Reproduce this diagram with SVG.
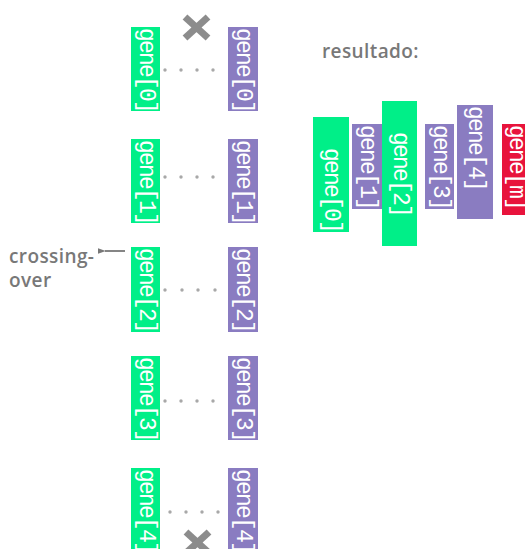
<svg xmlns="http://www.w3.org/2000/svg" width="525" height="549" viewBox="0 0 525 549">
<style>
.g{fill:#00EF88}
.p{fill:#8A7CC1}
.r{fill:#E8133C}
.t{font-family:"Liberation Mono","DejaVu Sans Mono",monospace;font-size:23px;letter-spacing:-1.8px;fill:#fff;dominant-baseline:central}
.lbl{font-family:"Open Sans","Noto Sans",sans-serif;font-size:19px;letter-spacing:0.4px;fill:#787878;font-weight:600}
.dot{fill:#A8A8A8}
.x{stroke:#8C8C8C;stroke-width:7;stroke-linecap:butt}
</style>
<defs>
<marker id="ah" viewBox="0 0 10 10" refX="1" refY="5" markerWidth="8" markerHeight="8" orient="auto-start-reverse" markerUnits="userSpaceOnUse">
<path d="M10,1.5 L0,5 L10,8.5 Z" fill="#787878"/>
</marker>
</defs>
<g id="connectors">
<g id="dots0"><circle class="dot" cx="165" cy="70" r="1.7"/><circle class="dot" cx="181" cy="70" r="1.7"/><circle class="dot" cx="197" cy="70" r="1.7"/><circle class="dot" cx="213" cy="70" r="1.7"/></g>
<g id="dots1"><circle class="dot" cx="165" cy="177" r="1.7"/><circle class="dot" cx="181" cy="177" r="1.7"/><circle class="dot" cx="197" cy="177" r="1.7"/><circle class="dot" cx="213" cy="177" r="1.7"/></g>
<g id="dots2"><circle class="dot" cx="165" cy="290" r="1.7"/><circle class="dot" cx="182" cy="290" r="1.7"/><circle class="dot" cx="198" cy="290" r="1.7"/><circle class="dot" cx="215" cy="290" r="1.7"/></g>
<g id="dots3"><circle class="dot" cx="165" cy="401" r="1.7"/><circle class="dot" cx="181" cy="401" r="1.7"/><circle class="dot" cx="197" cy="401" r="1.7"/><circle class="dot" cx="213" cy="401" r="1.7"/></g>
<g id="dots4"><circle class="dot" cx="170" cy="512" r="1.7"/><circle class="dot" cx="186" cy="512" r="1.7"/><circle class="dot" cx="202" cy="512" r="1.7"/><circle class="dot" cx="218" cy="512" r="1.7"/></g>
<line x1="125" y1="251" x2="105" y2="251" stroke="#787878" stroke-width="1.8" marker-end="url(#ah)"/>
</g>
<g id="cross-top"><line class="x" x1="185" y1="17" x2="208" y2="38"/><line class="x" x1="208" y1="17" x2="185" y2="38"/></g>
<g id="cross-bottom"><line class="x" x1="186" y1="532" x2="209" y2="553"/><line class="x" x1="209" y1="532" x2="186" y2="553"/></g>
<text class="lbl" x="9" y="263">crossing-</text>
<text class="lbl" x="9" y="287">over</text>
<text class="lbl" x="322" y="58">resultado:</text>
<g id="a0"><rect class="g" x="131" y="27" width="29" height="84"/><text class="t" transform="translate(145.5,28) rotate(90)">gene[0]</text></g>
<g id="b0"><rect class="p" x="228" y="27" width="30" height="84"/><text class="t" transform="translate(243,28) rotate(90)">gene[0]</text></g>
<g id="a1"><rect class="g" x="131" y="139" width="29" height="84"/><text class="t" transform="translate(145.5,140) rotate(90)">gene[1]</text></g>
<g id="b1"><rect class="p" x="228" y="139" width="30" height="84"/><text class="t" transform="translate(243,140) rotate(90)">gene[1]</text></g>
<g id="a2"><rect class="g" x="131" y="247" width="29" height="85"/><text class="t" transform="translate(145.5,248) rotate(90)">gene[2]</text></g>
<g id="b2"><rect class="p" x="228" y="247" width="30" height="85"/><text class="t" transform="translate(243,248) rotate(90)">gene[2]</text></g>
<g id="a3"><rect class="g" x="131" y="356" width="29" height="84"/><text class="t" transform="translate(145.5,357) rotate(90)">gene[3]</text></g>
<g id="b3"><rect class="p" x="228" y="356" width="30" height="84"/><text class="t" transform="translate(243,357) rotate(90)">gene[3]</text></g>
<g id="a4"><rect class="g" x="131" y="468" width="29" height="84"/><text class="t" transform="translate(145.5,469) rotate(90)">gene[4]</text></g>
<g id="b4"><rect class="p" x="228" y="468" width="30" height="84"/><text class="t" transform="translate(243,469) rotate(90)">gene[4]</text></g>
<g id="r0"><rect class="g" x="313" y="117" width="36" height="115"/><text class="t" transform="translate(331,148) rotate(90)">gene[0]</text></g>
<g id="r1"><rect class="p" x="352" y="124" width="30" height="85"/><text class="t" transform="translate(367,125) rotate(90)">gene[1]</text></g>
<g id="r2"><rect class="g" x="382" y="101" width="35" height="145"/><text class="t" transform="translate(399.5,132) rotate(90)">gene[2]</text></g>
<g id="r3"><rect class="p" x="425" y="124" width="29" height="85"/><text class="t" transform="translate(439.5,125) rotate(90)">gene[3]</text></g>
<g id="r4"><rect class="p" x="457" y="105" width="36" height="114"/><text class="t" transform="translate(475,106) rotate(90)">gene[4]</text></g>
<g id="rm"><rect class="r" x="502" y="124" width="30" height="91"/><text class="t" transform="translate(516,125) rotate(90)">gene[m]</text></g>
</svg>
